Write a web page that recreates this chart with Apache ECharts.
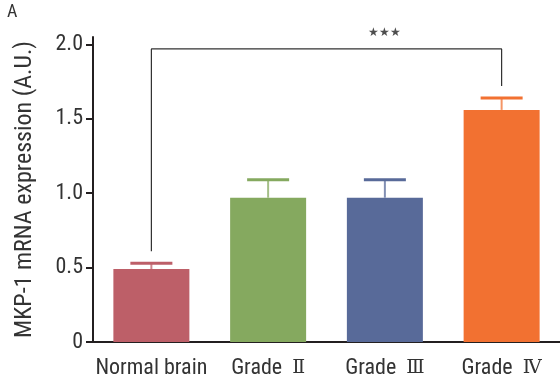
<!DOCTYPE html>
<html><head><meta charset="utf-8">
<script src="https://cdn.jsdelivr.net/npm/echarts@6/dist/echarts.min.js"></script>
<style>html,body{margin:0;padding:0;background:#fff}#c{width:560px;height:384px}</style>
</head><body><div id="c"></div>
<script>
var categories = ['Normal brain', 'Grade \u2161', 'Grade \u2162', 'Grade \u2163'];
var means = [0.49, 0.97, 0.97, 1.56];
var errUpper = [0.53, 1.09, 1.09, 1.64];
var colors = ['#BD5F68', '#85A95F', '#586A99', '#F27131'];
var yTicks = [0, 0.5, 1.0, 1.5, 2.0];
var bracketY = 1.97, bracketLeftEnd = 0.61, bracketRightEnd = 1.72;
var FONT = "'Liberation Sans Narrow','Roboto Condensed','Roboto',sans-serif";
var AX = '#231f20';

var chart = echarts.init(document.getElementById('c'), null, {renderer: 'canvas'});
chart.setOption({
  animation: false,
  grid: {left: 93, top: 37, width: 471, height: 305, containLabel: false},
  title: {text: 'A', left: 7, top: 3, padding: 0,
    textStyle: {fontSize: 18, fontFamily: FONT, fontWeight: 'normal', color: '#333'}},
  xAxis: {
    type: 'category', data: categories,
    axisLine: {lineStyle: {color: AX, width: 2}},
    axisTick: {alignWithLabel: true, length: 7, lineStyle: {color: AX, width: 2}},
    axisLabel: {fontFamily: FONT, fontSize: 22, color: '#333', margin: 15, interval: 0,
      formatter: function (v) {
        var m = v.match(/^(Grade) (.)$/);
        return m ? m[1] + ' {r|' + m[2] + '}' : v;
      },
      rich: {r: {fontFamily: "'DejaVu Serif'", fontSize: 19, color: '#333', padding: [0, 0, 0, 5]}}
    }
  },
  yAxis: {
    type: 'value', min: 0, max: 2.05, interval: 0.5,
    name: 'MKP-1 mRNA expression (A.U.)', nameLocation: 'middle', nameGap: 56, nameRotate: 90,
    nameTextStyle: {fontFamily: FONT, fontSize: 24, color: '#333'},
    splitLine: {show: false},
    axisLine: {show: true, lineStyle: {color: AX, width: 2}},
    axisTick: {show: true, length: 7, lineStyle: {color: AX, width: 2},
      customValues: yTicks},
    axisLabel: {fontFamily: FONT, fontSize: 22, color: '#333', margin: 10,
      customValues: yTicks,
      formatter: function (v) { return v === 0 ? '0' : v.toFixed(1); }}
  },
  series: [
    {
      type: 'bar', barWidth: 76, z: 2,
      data: means.map(function (v, i) { return {value: v, itemStyle: {color: colors[i]}}; })
    },
    {
      type: 'custom', z: 3,
      data: means.map(function (v, i) { return [i, v, errUpper[i]]; }),
      renderItem: function (params, api) {
        var i = api.value(0);
        var p0 = api.coord([i, api.value(1)]);
        var p1 = api.coord([i, api.value(2)]);
        var c = colors[i];
        return {type: 'group', children: [
          {type: 'line', shape: {x1: p0[0], y1: p0[1], x2: p1[0], y2: p1[1]}, style: {stroke: c, lineWidth: 2, opacity: 0.75}},
          {type: 'line', shape: {x1: p1[0] - 21, y1: p1[1], x2: p1[0] + 21, y2: p1[1]}, style: {stroke: c, lineWidth: 3}}
        ]};
      }
    },
    {
      type: 'line', z: 4, symbol: 'none', silent: true,
      lineStyle: {color: '#333', width: 1.2},
      data: [[categories[0], bracketLeftEnd], [categories[0], bracketY], [categories[3], bracketY], [categories[3], bracketRightEnd]]
    },
    {
      type: 'scatter', z: 5, symbolSize: 0, silent: true,
      data: [[1.5, bracketY]],
      label: {show: true, position: 'top', distance: 10, formatter: '\u2605\u2605\u2605', fontSize: 12, color: '#222'}
    }
  ]
});
</script></body></html>
